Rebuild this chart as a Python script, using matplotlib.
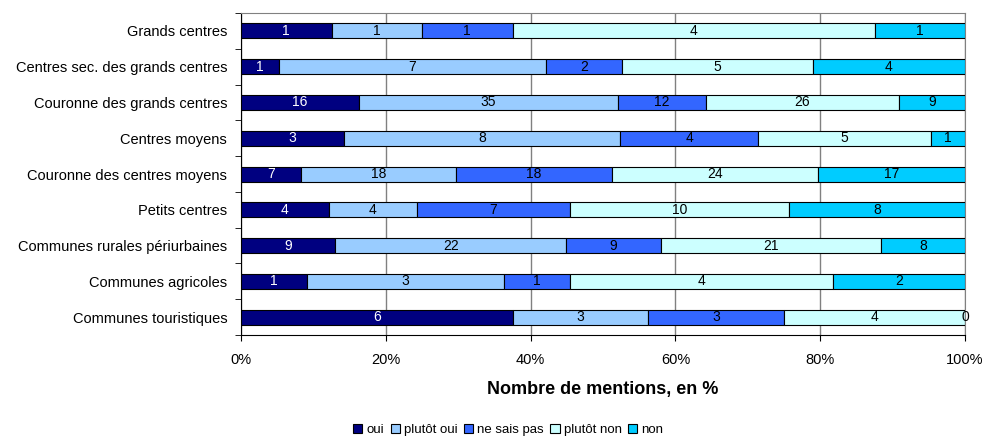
import numpy as np
import matplotlib.pyplot as plt
from matplotlib.ticker import FuncFormatter

plt.rcParams['font.family'] = ['Liberation Sans', 'DejaVu Sans']

# categories, top to bottom
categories = ['Grands centres', 'Centres sec. des grands centres', 'Couronne des grands centres',
              'Centres moyens', 'Couronne des centres moyens', 'Petits centres',
              'Communes rurales périurbaines', 'Communes agricoles', 'Communes touristiques']

oui = [1, 1, 16, 3, 7, 4, 9, 1, 6]
plutot_oui = [1, 7, 35, 8, 18, 4, 22, 3, 3]
ne_sais_pas = [1, 2, 12, 4, 18, 7, 9, 1, 3]
plutot_non = [4, 5, 26, 5, 24, 10, 21, 4, 4]
non = [1, 4, 9, 1, 17, 8, 8, 2, 0]

series_names = ['oui', 'plutôt oui', 'ne sais pas', 'plutôt non', 'non']
colors = ['#000080', '#99CCFF', '#3366FF', '#CCFFFF', '#00CCFF']
text_colors = ['white', 'black', 'black', 'black', 'black']

counts = np.array([oui, plutot_oui, ne_sais_pas, plutot_non, non], dtype=float)
totals = counts.sum(axis=0)
shares = counts / totals

fig = plt.figure(figsize=(9.85, 4.38), dpi=100)
ax = fig.add_axes([0.2447, 0.2352, 0.735, 0.735])

y = np.arange(len(categories))
left = np.zeros(len(categories))
for i, name in enumerate(series_names):
    ax.barh(y, shares[i], left=left, height=0.42, color=colors[i],
            edgecolor='black', linewidth=0.8, label=name, zorder=3)
    for j in range(len(categories)):
        ax.text(left[j] + shares[i][j] / 2, y[j], f'{int(counts[i][j])}',
                ha='center', va='center', fontsize=10, color=text_colors[i], zorder=4)
    left = left + shares[i]

ax.set_xlim(0, 1)
ax.set_ylim(len(categories) - 0.5, -0.5)
ax.set_xticks(np.arange(0, 1.01, 0.2))
ax.xaxis.set_major_formatter(FuncFormatter(lambda v, pos: f'{v:.0%}'))
ax.set_yticks(y)
ax.set_yticklabels(categories, fontsize=10.5)
ax.set_yticks(np.arange(-0.5, len(categories), 1), minor=True)
ax.tick_params(axis='y', which='major', length=0, pad=10)
ax.tick_params(axis='y', which='minor', length=4, direction='out')
ax.tick_params(axis='x', labelsize=10.5, length=4, pad=9)
ax.grid(axis='x', color='#808080', linewidth=1, zorder=0)

for side in ['top', 'right']:
    ax.spines[side].set_color('#808080')
for side in ['left', 'bottom']:
    ax.spines[side].set_color('black')

ax.set_xlabel('Nombre de mentions, en %', fontsize=13, fontweight='bold', labelpad=10)

fig.legend(*ax.get_legend_handles_labels(), loc='center', bbox_to_anchor=(0.516, 0.018), ncol=5,
           frameon=False, fontsize=9.5, handlelength=0.7, handleheight=0.7,
           handletextpad=0.3, columnspacing=0.5, borderpad=0)

fig.savefig('out.png', dpi=100)
